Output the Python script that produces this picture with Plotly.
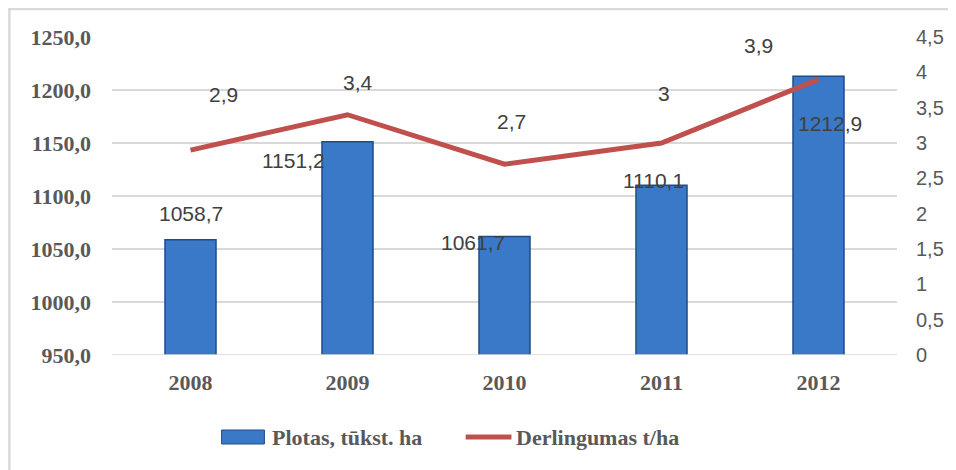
import plotly.graph_objects as go

years = ["2008", "2009", "2010", "2011", "2012"]
area = [1058.7, 1151.2, 1061.7, 1110.1, 1212.9]
yield_t = [2.9, 3.4, 2.7, 3.0, 3.9]
area_labels = ["1058,7", "1151,2", "1061,7", "1110,1", "1212,9"]
yield_labels = ["2,9", "3,4", "2,7", "3", "3,9"]
left_ticks = [950, 1000, 1050, 1100, 1150, 1200, 1250]
left_ticktext = ["950,0", "1000,0", "1050,0", "1100,0", "1150,0", "1200,0", "1250,0"]
right_ticks = [0, 0.5, 1, 1.5, 2, 2.5, 3, 3.5, 4, 4.5]
right_ticktext = ["0", "0,5", "1", "1,5", "2", "2,5", "3", "3,5", "4", "4,5"]
series_names = ["Plotas, tūkst. ha", "Derlingumas t/ha"]

# label pixel offsets (styling, mimicking the original label placement)
area_label_shift = [(0, 26), (-54, -19), (-32, -6), (-8, 5), (11, -47)]
yield_label_shift = [(33, 56), (10, 32), (7, 43), (2, 50), (-60, 34)]

serif = "Liberation Serif"
sans = "Liberation Sans"
grey = "#595959"
bar_color = "#3A78C8"
line_color = "#C0504D"

W, H = 948, 462
L, R, T, B = 104, 56, 29, 115
PW, PH = W - L - R, H - T - B


def px(x):
    return (x - L) / PW


def py(y):
    return 1 - (y - T) / PH


xpos = list(range(len(years)))

fig = go.Figure()
fig.add_trace(go.Bar(
    x=xpos, y=area, name=series_names[0], width=0.325,
    marker=dict(color=bar_color, line=dict(color="#1F4C88", width=1.5)),
    yaxis="y", showlegend=False,
))
fig.add_trace(go.Scatter(
    x=xpos, y=yield_t, name=series_names[1], mode="lines",
    line=dict(color=line_color, width=5), yaxis="y2", showlegend=False,
))

label_font = dict(family=sans, size=21, color="#404040")
annotations = []
for xi, v, t, (dx, dy) in zip(xpos, area, area_labels, area_label_shift):
    annotations.append(dict(x=xi, y=v, xref="x", yref="y", text=t, showarrow=False,
                            xshift=dx, yshift=dy, font=label_font))
for xi, v, t, (dx, dy) in zip(xpos, yield_t, yield_labels, yield_label_shift):
    annotations.append(dict(x=xi, y=v, xref="x", yref="y2", text=t, showarrow=False,
                            xshift=dx, yshift=dy, font=label_font))

# custom legend (wide bar swatch like the original)
legend_font = dict(family=serif, size=22, color=grey, weight="bold")
annotations.append(dict(x=px(263), y=py(429), xref="paper", yref="paper",
                        text=series_names[0], showarrow=False, xanchor="left",
                        yanchor="middle", font=legend_font))
annotations.append(dict(x=px(508), y=py(429), xref="paper", yref="paper",
                        text=series_names[1], showarrow=False, xanchor="left",
                        yanchor="middle", font=legend_font))

shapes = [
    # baseline
    dict(type="line", xref="x domain", yref="y", x0=0, x1=1.0, y0=950, y1=950,
         line=dict(color="#D9D9D9", width=1.5)),
    # legend swatches
    dict(type="rect", xref="paper", yref="paper", x0=px(214), x1=px(257),
         y0=py(436), y1=py(422), fillcolor=bar_color,
         line=dict(color="#1F4C88", width=1)),
    dict(type="line", xref="paper", yref="paper", x0=px(459), x1=px(505),
         y0=py(429), y1=py(429), line=dict(color=line_color, width=5)),
    # outer frame (top and left edge)
    dict(type="line", xref="paper", yref="paper", x0=px(0), x1=px(W), y0=py(1), y1=py(1),
         line=dict(color="#D9D9D9", width=2.5)),
    dict(type="line", xref="paper", yref="paper", x0=px(1), x1=px(1), y0=py(0), y1=py(H),
         line=dict(color="#D9D9D9", width=2.5)),
]

fig.update_layout(
    width=W, height=H,
    margin=dict(l=L, r=R, t=T, b=B),
    paper_bgcolor="white", plot_bgcolor="white",
    showlegend=False,
    xaxis=dict(range=[-0.5, len(years) - 0.5], tickvals=xpos, ticktext=years,
               showgrid=False, showline=False, zeroline=False, ticks="",
               tickfont=dict(family=serif, size=22, color=grey, weight="bold"),
               ticklabelstandoff=12),
    yaxis=dict(range=[950, 1250], tickvals=left_ticks, ticktext=left_ticktext,
               showgrid=True, gridcolor="#D9D9D9", gridwidth=1.5,
               zeroline=False, showline=False,
               tickfont=dict(family=serif, size=22, color=grey, weight="bold"),
               ticklabelstandoff=20),
    yaxis2=dict(range=[0, 4.5], tickvals=right_ticks, ticktext=right_ticktext,
                overlaying="y", side="right", showgrid=False, zeroline=False,
                tickfont=dict(family=sans, size=20, color=grey),
                ticklabelstandoff=18),
    annotations=annotations,
    shapes=shapes,
)

fig.write_html("out.html")
